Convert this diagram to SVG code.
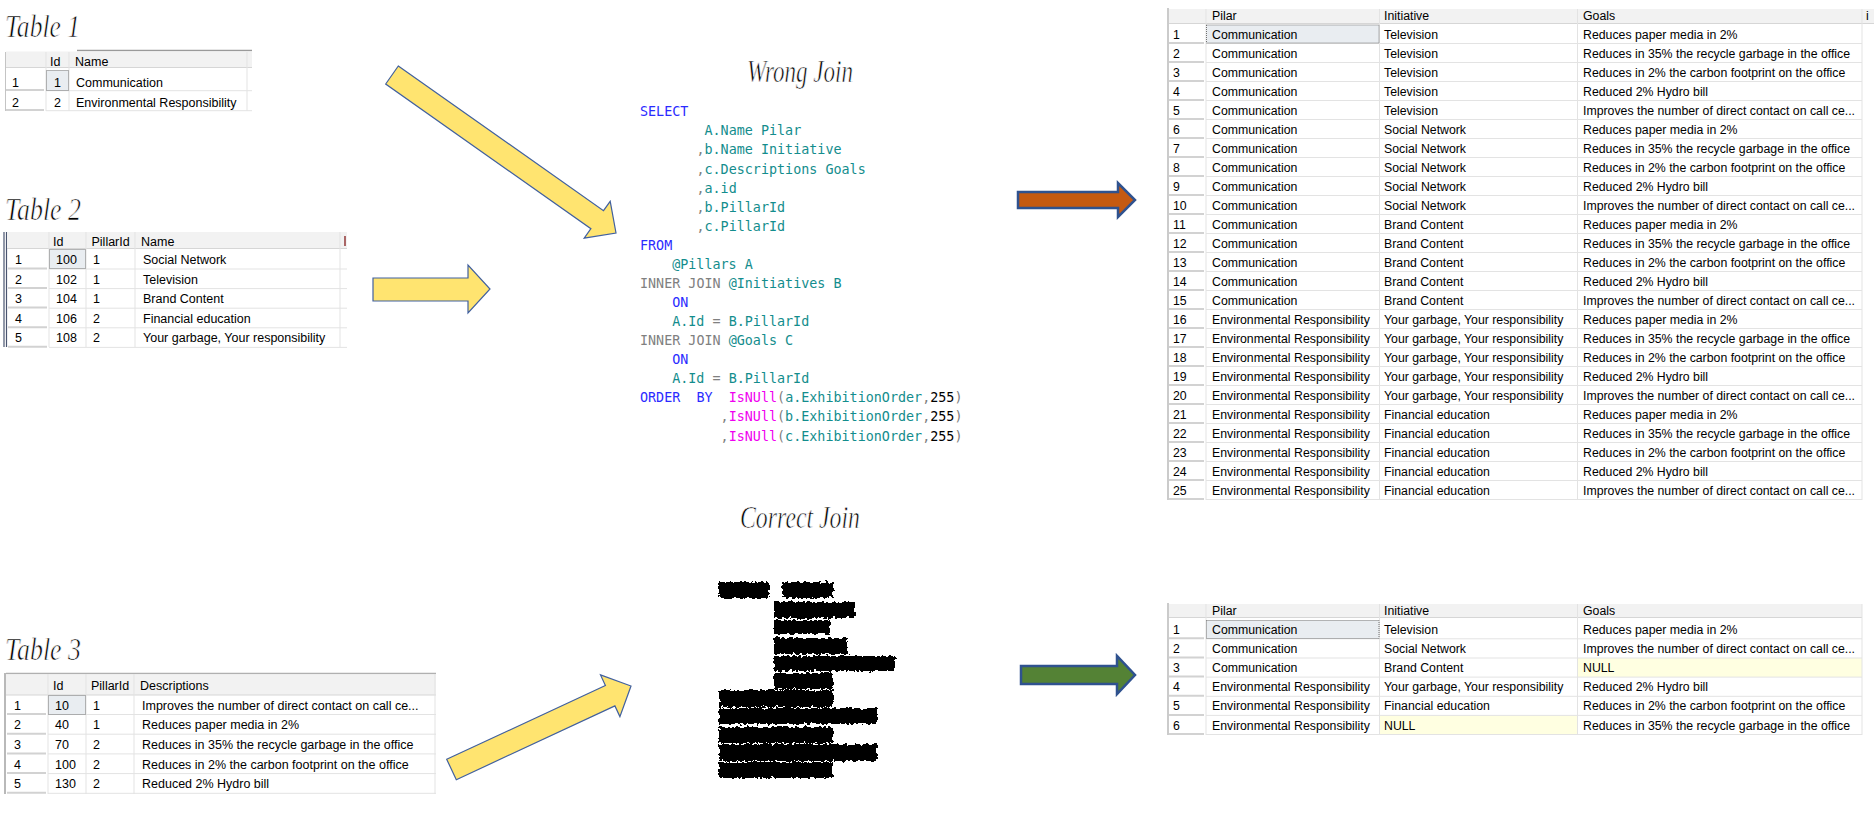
<svg xmlns="http://www.w3.org/2000/svg" width="1874" height="826" viewBox="0 0 1874 826">
<style>
.t{font-family:"Liberation Sans",Arial,sans-serif;font-size:12.5px;fill:#000}
.r{font-family:"Liberation Sans",Arial,sans-serif;font-size:12.3px;fill:#000}
.ttl{font-family:"Liberation Serif","Times New Roman",serif;font-style:italic;font-size:32px;fill:#000;stroke:#fff;stroke-width:0.7px}
.code{font-family:"DejaVu Sans Mono","Liberation Mono",monospace;font-size:13.4px}
.kw{fill:#2b2bff}.id{fill:#138d8d}.gr{fill:#808080}.fn{fill:#f000f0}.num{fill:#000}
.hdr{fill:#f2f2f2}
.gl{stroke:#e3e3e3;stroke-width:1;fill:none}
.rh{stroke:#d2d2d2;stroke-width:2;fill:none}
.sel{fill:#e9edf1;stroke:#707070;stroke-width:1;stroke-dasharray:1 1}
.nul{fill:#ffffe1}
.ya{fill:#ffe470;stroke:#41609f;stroke-width:1.2}
.ba{stroke:#2f528f;stroke-width:2.5}
</style>
<defs>
<filter id="rough" x="-5%" y="-40%" width="110%" height="180%">
<feTurbulence type="fractalNoise" baseFrequency="0.28" numOctaves="2" seed="7"/>
<feDisplacementMap in="SourceGraphic" scale="6" xChannelSelector="R" yChannelSelector="G"/>
</filter>
</defs>
<rect width="1874" height="826" fill="#fff"/>

<g id="titles">
<text class="ttl" x="5" y="37" textLength="75" lengthAdjust="spacingAndGlyphs">Table 1</text>
<text class="ttl" x="5" y="220" textLength="76" lengthAdjust="spacingAndGlyphs">Table 2</text>
<text class="ttl" x="5" y="660" textLength="76" lengthAdjust="spacingAndGlyphs">Table 3</text>
<text class="ttl" x="747" y="82" textLength="106" lengthAdjust="spacingAndGlyphs">Wrong Join</text>
<text class="ttl" x="740" y="528" textLength="120" lengthAdjust="spacingAndGlyphs">Correct Join</text>
</g>

<g id="table1">
<line x1="77" y1="50.5" x2="252" y2="50.5" stroke="#9a9a9a" stroke-width="1.5"/>
<rect class="hdr" x="6" y="51.5" width="246" height="16"/>
<line x1="6" y1="67.5" x2="252" y2="67.5" stroke="#d6d6d6"/>
<line x1="5.5" y1="52" x2="5.5" y2="111" stroke="#c4c4c4"/>
<path class="gl" d="M46 52V111M69 52V111M247 52V111M46 90.7H252M46 110.7H252"/>
<path class="rh" d="M6 90H44M6 110H44"/>
<rect class="sel" x="46.5" y="70.5" width="22" height="20"/>
<text class="t" x="50" y="65.5">Id</text>
<text class="t" x="75" y="65.5">Name</text>
<text class="t" x="12" y="87">1</text>
<text class="t" x="54" y="87">1</text>
<text class="t" x="76" y="87">Communication</text>
<text class="t" x="12" y="107">2</text>
<text class="t" x="54" y="107">2</text>
<text class="t" x="76" y="107">Environmental Responsibility</text>
</g>

<g id="table2">
<line x1="4" y1="232" x2="4" y2="347" stroke="#4a5570" stroke-width="1.2"/>
<line x1="6.5" y1="232" x2="6.5" y2="347" stroke="#4a5570" stroke-width="1.2"/>
<rect class="hdr" x="7" y="232" width="340" height="16"/>
<line x1="7" y1="248.5" x2="347" y2="248.5" stroke="#d6d6d6"/>
<path class="gl" d="M49 232V347M86 232V347M135 232V347M340 232V347M49 269H347M49 288.6H347M49 308.2H347M49 327.8H347M49 347.4H347"/>
<path class="rh" d="M8 268.5H47M8 288H47M8 307.6H47M8 327.2H47M8 346.8H47"/>
<rect class="sel" x="49.5" y="249.5" width="36" height="19"/>
<line x1="345" y1="236" x2="345" y2="246" stroke="#8b2a2a" stroke-width="1.4"/>
<text class="t" x="53" y="245.5">Id</text>
<text class="t" x="91.5" y="245.5">PillarId</text>
<text class="t" x="141" y="245.5">Name</text>
<text class="t" x="15" y="264">1</text><text class="t" x="56" y="264">100</text><text class="t" x="93" y="264">1</text><text class="t" x="143" y="264">Social Network</text>
<text class="t" x="15" y="283.6">2</text><text class="t" x="56" y="283.6">102</text><text class="t" x="93" y="283.6">1</text><text class="t" x="143" y="283.6">Television</text>
<text class="t" x="15" y="303.2">3</text><text class="t" x="56" y="303.2">104</text><text class="t" x="93" y="303.2">1</text><text class="t" x="143" y="303.2">Brand Content</text>
<text class="t" x="15" y="322.8">4</text><text class="t" x="56" y="322.8">106</text><text class="t" x="93" y="322.8">2</text><text class="t" x="143" y="322.8">Financial education</text>
<text class="t" x="15" y="342.4">5</text><text class="t" x="56" y="342.4">108</text><text class="t" x="93" y="342.4">2</text><text class="t" x="143" y="342.4">Your garbage, Your responsibility</text>
</g>

<g id="table3">
<line x1="6" y1="673.5" x2="436" y2="673.5" stroke="#b0b0b0" stroke-width="1.5"/>
<line x1="5" y1="673" x2="5" y2="794" stroke="#8a8a8a" stroke-width="1.2"/>
<rect class="hdr" x="6" y="674.5" width="430" height="20.5"/>
<line x1="6" y1="695" x2="436" y2="695" stroke="#d6d6d6"/>
<path class="gl" d="M48 674V794M86 674V794M134 674V794M435 674V794M48 714.5H436M48 734.2H436M48 753.9H436M48 773.6H436M48 793.3H436"/>
<path class="rh" d="M7 714H46M7 733.7H46M7 753.4H46M7 773.1H46M7 792.8H46"/>
<rect class="sel" x="48.5" y="695.5" width="37" height="19"/>
<text class="t" x="53" y="690">Id</text>
<text class="t" x="91" y="690">PillarId</text>
<text class="t" x="140" y="690">Descriptions</text>
<text class="t" x="14" y="709.5">1</text><text class="t" x="55" y="709.5">10</text><text class="t" x="93" y="709.5">1</text><text class="t" x="142" y="709.5">Improves the number of direct contact on call ce...</text>
<text class="t" x="14" y="729.2">2</text><text class="t" x="55" y="729.2">40</text><text class="t" x="93" y="729.2">1</text><text class="t" x="142" y="729.2">Reduces paper media in 2%</text>
<text class="t" x="14" y="748.9">3</text><text class="t" x="55" y="748.9">70</text><text class="t" x="93" y="748.9">2</text><text class="t" x="142" y="748.9">Reduces in 35% the recycle garbage in the office</text>
<text class="t" x="14" y="768.6">4</text><text class="t" x="55" y="768.6">100</text><text class="t" x="93" y="768.6">2</text><text class="t" x="142" y="768.6">Reduces in 2% the carbon footprint on the office</text>
<text class="t" x="14" y="788.3">5</text><text class="t" x="55" y="788.3">130</text><text class="t" x="93" y="788.3">2</text><text class="t" x="142" y="788.3">Reduced 2% Hydro bill</text>
</g>

<g id="sql-wrong" class="code">
<text x="640" y="116" class="kw">SELECT</text>
<text x="704.5" y="135" class="id">A.Name Pilar</text>
<text x="696.4" y="154"><tspan class="gr">,</tspan><tspan class="id">b.Name Initiative</tspan></text>
<text x="696.4" y="173.5"><tspan class="gr">,</tspan><tspan class="id">c.Descriptions Goals</tspan></text>
<text x="696.4" y="192.5"><tspan class="gr">,</tspan><tspan class="id">a.id</tspan></text>
<text x="696.4" y="211.5"><tspan class="gr">,</tspan><tspan class="id">b.PillarId</tspan></text>
<text x="696.4" y="230.5"><tspan class="gr">,</tspan><tspan class="id">c.PillarId</tspan></text>
<text x="640" y="250" class="kw">FROM</text>
<text x="672.2" y="269" class="id">@Pillars A</text>
<text x="640" y="288" xml:space="preserve"><tspan class="gr">INNER JOIN</tspan><tspan class="id"> @Initiatives B</tspan></text>
<text x="672.2" y="307" class="kw">ON</text>
<text x="672.2" y="326" xml:space="preserve"><tspan class="id">A.Id</tspan><tspan class="gr"> = </tspan><tspan class="id">B.PillarId</tspan></text>
<text x="640" y="345" xml:space="preserve"><tspan class="gr">INNER JOIN</tspan><tspan class="id"> @Goals C</tspan></text>
<text x="672.2" y="364" class="kw">ON</text>
<text x="672.2" y="383" xml:space="preserve"><tspan class="id">A.Id</tspan><tspan class="gr"> = </tspan><tspan class="id">B.PillarId</tspan></text>
<text x="640" y="402" xml:space="preserve"><tspan class="kw">ORDER  BY  </tspan><tspan class="fn">IsNUll</tspan><tspan class="gr">(</tspan><tspan class="id">a.ExhibitionOrder</tspan><tspan class="gr">,</tspan><tspan class="num">255</tspan><tspan class="gr">)</tspan></text>
<text x="720.6" y="421"><tspan class="gr">,</tspan><tspan class="fn">IsNUll</tspan><tspan class="gr">(</tspan><tspan class="id">b.ExhibitionOrder</tspan><tspan class="gr">,</tspan><tspan class="num">255</tspan><tspan class="gr">)</tspan></text>
<text x="720.6" y="440.5"><tspan class="gr">,</tspan><tspan class="fn">IsNUll</tspan><tspan class="gr">(</tspan><tspan class="id">c.ExhibitionOrder</tspan><tspan class="gr">,</tspan><tspan class="num">255</tspan><tspan class="gr">)</tspan></text>
</g>

<g id="sql-correct" fill="#000" filter="url(#rough)">
<rect x="719" y="582" width="50" height="16"/>
<rect x="782" y="582" width="51" height="16"/>
<rect x="774" y="602" width="81" height="16"/>
<rect x="774" y="620" width="56" height="14"/>
<rect x="774" y="638" width="73" height="16"/>
<rect x="774" y="656" width="121" height="15"/>
<rect x="774" y="673" width="59" height="16"/>
<rect x="719" y="690" width="114" height="17"/>
<rect x="719" y="708" width="158" height="16"/>
<rect x="719" y="727" width="114" height="16"/>
<rect x="719" y="744" width="158" height="17"/>
<rect x="719" y="762" width="114" height="16"/>
</g>

<g id="result-wrong">
<line x1="1168" y1="8" x2="1168" y2="500" stroke="#a8a8a8" stroke-width="1.2"/>
<rect class="hdr" x="1169" y="9" width="705" height="14"/>
<line x1="1169" y1="23.5" x2="1874" y2="23.5" stroke="#d6d6d6"/>
<path class="gl" d="M1206 9V500M1379.5 9V500M1577.5 9V500M1862 9V500M1206 43.5H1862M1206 62.5H1862M1206 81.5H1862M1206 100.5H1862M1206 119.5H1862M1206 138.5H1862M1206 157.5H1862M1206 176.5H1862M1206 195.5H1862M1206 214.5H1862M1206 233.5H1862M1206 252.5H1862M1206 271.5H1862M1206 290.5H1862M1206 309.5H1862M1206 328.5H1862M1206 347.5H1862M1206 366.5H1862M1206 385.5H1862M1206 404.5H1862M1206 423.5H1862M1206 442.5H1862M1206 461.5H1862M1206 480.5H1862M1206 499.5H1862"/>
<path class="rh" d="M1169 43H1204M1169 62H1204M1169 81H1204M1169 100H1204M1169 119H1204M1169 138H1204M1169 157H1204M1169 176H1204M1169 195H1204M1169 214H1204M1169 233H1204M1169 252H1204M1169 271H1204M1169 290H1204M1169 309H1204M1169 328H1204M1169 347H1204M1169 366H1204M1169 385H1204M1169 404H1204M1169 423H1204M1169 442H1204M1169 461H1204M1169 480H1204M1169 499H1204"/>
<rect class="sel" x="1206.5" y="25" width="172.5" height="18"/>
<text class="r" x="1212" y="20">Pilar</text><text class="r" x="1384" y="20">Initiative</text><text class="r" x="1583" y="20">Goals</text><text class="r" x="1866" y="20">i</text>
<text class="r" x="1173" y="38.5">1</text><text class="r" x="1212" y="38.5">Communication</text><text class="r" x="1384" y="38.5">Television</text><text class="r" x="1583" y="38.5">Reduces paper media in 2%</text>
<text class="r" x="1173" y="57.5">2</text><text class="r" x="1212" y="57.5">Communication</text><text class="r" x="1384" y="57.5">Television</text><text class="r" x="1583" y="57.5">Reduces in 35% the recycle garbage in the office</text>
<text class="r" x="1173" y="76.5">3</text><text class="r" x="1212" y="76.5">Communication</text><text class="r" x="1384" y="76.5">Television</text><text class="r" x="1583" y="76.5">Reduces in 2% the carbon footprint on the office</text>
<text class="r" x="1173" y="95.5">4</text><text class="r" x="1212" y="95.5">Communication</text><text class="r" x="1384" y="95.5">Television</text><text class="r" x="1583" y="95.5">Reduced 2% Hydro bill</text>
<text class="r" x="1173" y="114.5">5</text><text class="r" x="1212" y="114.5">Communication</text><text class="r" x="1384" y="114.5">Television</text><text class="r" x="1583" y="114.5">Improves the number of direct contact on call ce...</text>
<text class="r" x="1173" y="133.5">6</text><text class="r" x="1212" y="133.5">Communication</text><text class="r" x="1384" y="133.5">Social Network</text><text class="r" x="1583" y="133.5">Reduces paper media in 2%</text>
<text class="r" x="1173" y="152.5">7</text><text class="r" x="1212" y="152.5">Communication</text><text class="r" x="1384" y="152.5">Social Network</text><text class="r" x="1583" y="152.5">Reduces in 35% the recycle garbage in the office</text>
<text class="r" x="1173" y="171.5">8</text><text class="r" x="1212" y="171.5">Communication</text><text class="r" x="1384" y="171.5">Social Network</text><text class="r" x="1583" y="171.5">Reduces in 2% the carbon footprint on the office</text>
<text class="r" x="1173" y="190.5">9</text><text class="r" x="1212" y="190.5">Communication</text><text class="r" x="1384" y="190.5">Social Network</text><text class="r" x="1583" y="190.5">Reduced 2% Hydro bill</text>
<text class="r" x="1173" y="209.5">10</text><text class="r" x="1212" y="209.5">Communication</text><text class="r" x="1384" y="209.5">Social Network</text><text class="r" x="1583" y="209.5">Improves the number of direct contact on call ce...</text>
<text class="r" x="1173" y="228.5">11</text><text class="r" x="1212" y="228.5">Communication</text><text class="r" x="1384" y="228.5">Brand Content</text><text class="r" x="1583" y="228.5">Reduces paper media in 2%</text>
<text class="r" x="1173" y="247.5">12</text><text class="r" x="1212" y="247.5">Communication</text><text class="r" x="1384" y="247.5">Brand Content</text><text class="r" x="1583" y="247.5">Reduces in 35% the recycle garbage in the office</text>
<text class="r" x="1173" y="266.5">13</text><text class="r" x="1212" y="266.5">Communication</text><text class="r" x="1384" y="266.5">Brand Content</text><text class="r" x="1583" y="266.5">Reduces in 2% the carbon footprint on the office</text>
<text class="r" x="1173" y="285.5">14</text><text class="r" x="1212" y="285.5">Communication</text><text class="r" x="1384" y="285.5">Brand Content</text><text class="r" x="1583" y="285.5">Reduced 2% Hydro bill</text>
<text class="r" x="1173" y="304.5">15</text><text class="r" x="1212" y="304.5">Communication</text><text class="r" x="1384" y="304.5">Brand Content</text><text class="r" x="1583" y="304.5">Improves the number of direct contact on call ce...</text>
<text class="r" x="1173" y="323.5">16</text><text class="r" x="1212" y="323.5">Environmental Responsibility</text><text class="r" x="1384" y="323.5">Your garbage, Your responsibility</text><text class="r" x="1583" y="323.5">Reduces paper media in 2%</text>
<text class="r" x="1173" y="342.5">17</text><text class="r" x="1212" y="342.5">Environmental Responsibility</text><text class="r" x="1384" y="342.5">Your garbage, Your responsibility</text><text class="r" x="1583" y="342.5">Reduces in 35% the recycle garbage in the office</text>
<text class="r" x="1173" y="361.5">18</text><text class="r" x="1212" y="361.5">Environmental Responsibility</text><text class="r" x="1384" y="361.5">Your garbage, Your responsibility</text><text class="r" x="1583" y="361.5">Reduces in 2% the carbon footprint on the office</text>
<text class="r" x="1173" y="380.5">19</text><text class="r" x="1212" y="380.5">Environmental Responsibility</text><text class="r" x="1384" y="380.5">Your garbage, Your responsibility</text><text class="r" x="1583" y="380.5">Reduced 2% Hydro bill</text>
<text class="r" x="1173" y="399.5">20</text><text class="r" x="1212" y="399.5">Environmental Responsibility</text><text class="r" x="1384" y="399.5">Your garbage, Your responsibility</text><text class="r" x="1583" y="399.5">Improves the number of direct contact on call ce...</text>
<text class="r" x="1173" y="418.5">21</text><text class="r" x="1212" y="418.5">Environmental Responsibility</text><text class="r" x="1384" y="418.5">Financial education</text><text class="r" x="1583" y="418.5">Reduces paper media in 2%</text>
<text class="r" x="1173" y="437.5">22</text><text class="r" x="1212" y="437.5">Environmental Responsibility</text><text class="r" x="1384" y="437.5">Financial education</text><text class="r" x="1583" y="437.5">Reduces in 35% the recycle garbage in the office</text>
<text class="r" x="1173" y="456.5">23</text><text class="r" x="1212" y="456.5">Environmental Responsibility</text><text class="r" x="1384" y="456.5">Financial education</text><text class="r" x="1583" y="456.5">Reduces in 2% the carbon footprint on the office</text>
<text class="r" x="1173" y="475.5">24</text><text class="r" x="1212" y="475.5">Environmental Responsibility</text><text class="r" x="1384" y="475.5">Financial education</text><text class="r" x="1583" y="475.5">Reduced 2% Hydro bill</text>
<text class="r" x="1173" y="494.5">25</text><text class="r" x="1212" y="494.5">Environmental Responsibility</text><text class="r" x="1384" y="494.5">Financial education</text><text class="r" x="1583" y="494.5">Improves the number of direct contact on call ce...</text>
</g>

<g id="result-correct">
<rect class="nul" x="1578" y="658" width="284" height="19"/>
<rect class="nul" x="1380" y="715.4" width="197.5" height="19"/>
<line x1="1168" y1="603" x2="1168" y2="735" stroke="#a8a8a8" stroke-width="1.2"/>
<rect class="hdr" x="1169" y="604" width="693" height="13"/>
<line x1="1169" y1="617.5" x2="1862" y2="617.5" stroke="#d6d6d6"/>
<path class="gl" d="M1206 604V735M1379.5 604V735M1577.5 604V735M1862 604V735M1206 638.8H1862M1206 658H1862M1206 677.1H1862M1206 696.3H1862M1206 715.4H1862M1206 734.5H1862"/>
<path class="rh" d="M1169 638.3H1204M1169 657.5H1204M1169 676.6H1204M1169 695.8H1204M1169 714.9H1204M1169 734H1204"/>
<rect class="sel" x="1206.5" y="620.5" width="172.5" height="18"/>
<text class="r" x="1212" y="615">Pilar</text><text class="r" x="1384" y="615">Initiative</text><text class="r" x="1583" y="615">Goals</text>
<text class="r" x="1173" y="633.8">1</text><text class="r" x="1212" y="633.8">Communication</text><text class="r" x="1384" y="633.8">Television</text><text class="r" x="1583" y="633.8">Reduces paper media in 2%</text>
<text class="r" x="1173" y="653">2</text><text class="r" x="1212" y="653">Communication</text><text class="r" x="1384" y="653">Social Network</text><text class="r" x="1583" y="653">Improves the number of direct contact on call ce...</text>
<text class="r" x="1173" y="672.1">3</text><text class="r" x="1212" y="672.1">Communication</text><text class="r" x="1384" y="672.1">Brand Content</text><text class="r" x="1583" y="672.1">NULL</text>
<text class="r" x="1173" y="691.3">4</text><text class="r" x="1212" y="691.3">Environmental Responsibility</text><text class="r" x="1384" y="691.3">Your garbage, Your responsibility</text><text class="r" x="1583" y="691.3">Reduced 2% Hydro bill</text>
<text class="r" x="1173" y="710.4">5</text><text class="r" x="1212" y="710.4">Environmental Responsibility</text><text class="r" x="1384" y="710.4">Financial education</text><text class="r" x="1583" y="710.4">Reduces in 2% the carbon footprint on the office</text>
<text class="r" x="1173" y="729.6">6</text><text class="r" x="1212" y="729.6">Environmental Responsibility</text><text class="r" x="1384" y="729.6">NULL</text><text class="r" x="1583" y="729.6">Reduces in 35% the recycle garbage in the office</text>
</g>

<g id="connectors">
<polygon class="ya" points="398.3,66 603.5,210.7 610.2,201.3 616,233 584.2,238.1 590.9,228.7 385.7,84"/>
<polygon class="ya" points="373,278 468,278 468,265 490,289 468,313 468,301 373,301"/>
<polygon class="ya" points="446.7,759.3 605.4,685.5 600.5,674.9 631,686 619.9,716.6 614.9,705.9 456.3,779.7"/>
<polygon class="ba" fill="#c55a11" points="1018,192 1118,192 1118,183 1135,200 1118,217 1118,208 1018,208"/>
<polygon class="ba" fill="#548235" points="1021,666 1117,666 1117,656 1135,675 1117,694 1117,684 1021,684"/>
</g>
</svg>
